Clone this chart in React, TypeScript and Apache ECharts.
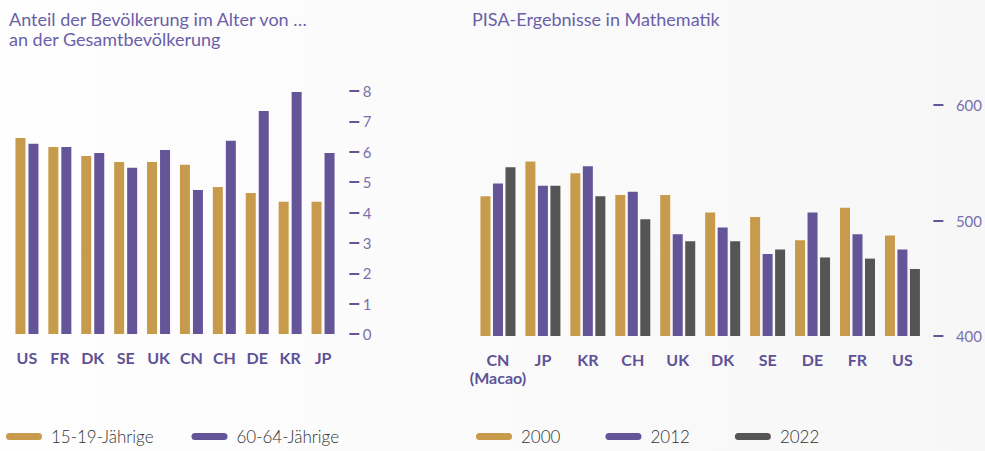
import React, { useEffect, useRef } from "react";
import * as echarts from "echarts";

const popCategories = ["US", "FR", "DK", "SE", "UK", "CN", "CH", "DE", "KR", "JP"];
const young = [6.45, 6.16, 5.86, 5.66, 5.66, 5.57, 4.84, 4.64, 4.35, 4.35];
const old = [6.26, 6.16, 5.96, 5.47, 6.06, 4.74, 6.36, 7.34, 7.97, 5.96];
const popTicks = [0, 8, 1];

const pisaCategories = ["CN\n(Macao)", "JP", "KR", "CH", "UK", "DK", "SE", "DE", "FR", "US"];
const pisa2000 = [521, 551, 541, 522, 522, 507, 503, 483, 511, 487];
const pisa2012 = [532, 530, 547, 525, 488, 494, 471, 507, 488, 475];
const pisa2022 = [546, 530, 521, 501, 482, 482, 475, 468, 467, 458];
const pisaTicks = [400, 600, 100];

const GOLD = "#c89b4c";
const PURPLE = "#635597";
const GRAY = "#555555";
const FONT = "Lato, 'Noto Sans', sans-serif";

export default function App() {
  const ref = useRef<HTMLDivElement>(null);
  useEffect(() => {
    document.body.style.margin = "0";
    const chart = echarts.init(ref.current!, null, { renderer: "svg" });
    const pill = "path://M3.5,0 H32.5 A3.5,3.5 0 0 1 32.5,7 H3.5 A3.5,3.5 0 0 1 3.5,0 Z";
    const catLabel = {
      color: "#5e5296",
      fontWeight: "bold" as const,
      fontSize: 16,
      fontFamily: FONT,
      margin: 14,
      lineHeight: 18,
      interval: 0,
    };
    const yCommon = (offset: number, margin: number) => ({
      position: "right" as const,
      offset,
      axisLine: { show: false },
      axisTick: { show: true, length: 10, lineStyle: { color: PURPLE, width: 2 } },
      axisLabel: { color: "#7a70ad", fontSize: 15, fontFamily: FONT, margin },
      splitLine: { show: false },
    });
    const titleStyle = { color: "#6a5fa8", fontSize: 18, fontWeight: "normal" as const, fontFamily: FONT, lineHeight: 20 };
    const legendText = { color: "#333", fontSize: 17, fontWeight: 300, fontFamily: FONT, padding: [0, 0, 0, 4] };
    chart.setOption({
      animation: false,
      backgroundColor: {
        type: "linear",
        x: 0,
        y: 0,
        x2: 1,
        y2: 0,
        colorStops: [
          { offset: 0, color: "#fefefe" },
          { offset: 1, color: "#f7f7f7" },
        ],
      },
      textStyle: { fontFamily: FONT },
      title: [
        {
          text: "Anteil der Bevölkerung im Alter von …\nan der Gesamtbevölkerung",
          left: 9,
          top: 9,
          padding: 0,
          textStyle: titleStyle,
        },
        {
          text: "PISA-Ergebnisse in Mathematik",
          left: 472,
          top: 9,
          padding: 0,
          textStyle: titleStyle,
        },
      ],
      legend: [
        {
          data: ["15-19-Jährige", "60-64-Jährige"],
          left: 6,
          top: 428,
          padding: 0,
          icon: pill,
          itemWidth: 36,
          itemHeight: 7,
          itemGap: 38,
          textStyle: legendText,
        },
        {
          data: ["2000", "2012", "2022"],
          left: 476,
          top: 428,
          padding: 0,
          icon: pill,
          itemWidth: 36,
          itemHeight: 7,
          itemGap: 45,
          textStyle: legendText,
        },
      ],
      grid: [
        { left: 10.5, top: 91, width: 329, height: 243 },
        { left: 475.5, top: 105, width: 457, height: 231 },
      ],
      xAxis: [
        {
          type: "category",
          gridIndex: 0,
          data: popCategories,
          axisLine: { show: false },
          axisTick: { show: false },
          axisLabel: catLabel,
        },
        {
          type: "category",
          gridIndex: 1,
          data: pisaCategories,
          axisLine: { show: false },
          axisTick: { show: false },
          axisLabel: catLabel,
        },
      ],
      yAxis: [
        {
          type: "value",
          gridIndex: 0,
          min: popTicks[0],
          max: popTicks[1],
          interval: popTicks[2],
          ...yCommon(9.8, 13.5),
        },
        {
          type: "value",
          gridIndex: 1,
          min: pisaTicks[0],
          max: pisaTicks[1],
          interval: pisaTicks[2],
          ...yCommon(8.5, 22.5),
        },
      ],
      series: [
        { name: "15-19-Jährige", type: "bar", xAxisIndex: 0, yAxisIndex: 0, data: young, barWidth: 10, barGap: "30%", itemStyle: { color: GOLD } },
        { name: "60-64-Jährige", type: "bar", xAxisIndex: 0, yAxisIndex: 0, data: old, barWidth: 10, barGap: "30%", itemStyle: { color: PURPLE } },
        { name: "2000", type: "bar", xAxisIndex: 1, yAxisIndex: 1, data: pisa2000, barWidth: 10, barGap: "25%", itemStyle: { color: GOLD } },
        { name: "2012", type: "bar", xAxisIndex: 1, yAxisIndex: 1, data: pisa2012, barWidth: 10, barGap: "25%", itemStyle: { color: PURPLE } },
        { name: "2022", type: "bar", xAxisIndex: 1, yAxisIndex: 1, data: pisa2022, barWidth: 10, barGap: "25%", itemStyle: { color: GRAY } },
      ],
    });
    return () => chart.dispose();
  }, []);
  return <div ref={ref} style={{ position: "absolute", left: 0, top: 0, width: 985, height: 451 }} />;
}
